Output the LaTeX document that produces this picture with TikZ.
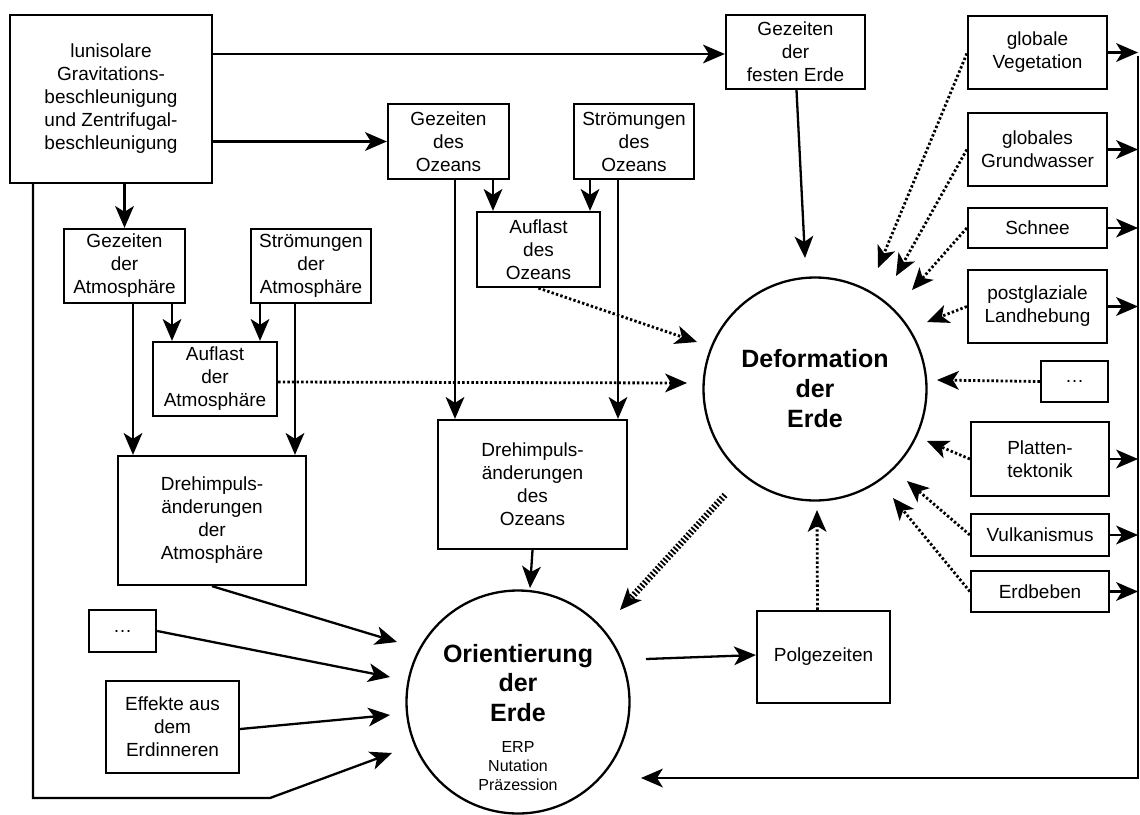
\documentclass[tikz,border=0pt]{standalone}
\usepackage{fontspec}
\setmainfont{Liberation Sans}
\usetikzlibrary{arrows.meta}
\begin{document}
\begin{tikzpicture}[x=1pt,y=-1pt,
  box/.style={draw, line width=2.3pt, align=center, inner sep=0pt, font=\fontsize{19}{23}\selectfont},
  circ/.style={draw, circle, line width=2.3pt, minimum size=223pt, inner sep=0pt, align=center, font=\fontsize{25}{30}\selectfont\bfseries},
  arrowtip/.style={-{Stealth[length=22pt,width=19pt,inset=6pt,line width=0pt]}},
  arr/.style={arrowtip, line width=2.3pt},
  dotarr/.style={arrowtip, line width=2.8pt, dash pattern=on 2.4pt off 2.2pt},
  busline/.style={arrowtip, line width=1.8pt},
  striped/.style={arrowtip, line width=6.5pt, dash pattern=on 1.8pt off 2pt}]
\useasboundingbox (0,0) rectangle (1140,814);
\fill[white] (0,0) rectangle (1140,814);

% boxes
\node[box, minimum width=202pt, minimum height=168pt] (lun) at (111,99) {lunisolare\\Gravitations-\\beschleunigung\\und Zentrifugal-\\beschleunigung};
\node[box, minimum width=139pt, minimum height=74pt] (fest) at (795.5,52) {Gezeiten\\der\\festen Erde};
\node[box, minimum width=121pt, minimum height=75pt] (gOz) at (448.5,141.5) {Gezeiten\\des\\Ozeans};
\node[box, minimum width=120pt, minimum height=75pt] (sOz) at (634,141.5) {Strömungen\\des\\Ozeans};
\node[box, minimum width=123pt, minimum height=75pt] (aOz) at (538.5,249.5) {Auflast\\des\\Ozeans};
\node[box, minimum width=121pt, minimum height=74pt] (gAtm) at (124.5,266) {Gezeiten\\der\\Atmosphäre};
\node[box, minimum width=120pt, minimum height=74pt] (sAtm) at (311,266) {Strömungen\\der\\Atmosphäre};
\node[box, minimum width=124pt, minimum height=74pt] (aAtm) at (215,379) {Auflast\\der\\Atmosphäre};
\node[box, minimum width=188pt, minimum height=129pt] (dAtm) at (212,520.5) {Drehimpuls-\\änderungen\\der\\Atmosphäre};
\node[box, minimum width=189pt, minimum height=129pt] (dOz) at (532.5,484.5) {Drehimpuls-\\änderungen\\des\\Ozeans};
\node[box, minimum width=67pt, minimum height=42pt] (dotsL) at (122.5,631) {\ldots};
\node[box, minimum width=133pt, minimum height=92pt] (eff) at (172.5,727) {Effekte aus\\dem\\Erdinneren};
\node[box, minimum width=133pt, minimum height=92pt] (pol) at (823.5,657) {Polgezeiten};
\node[box, minimum width=139pt, minimum height=73pt] (veg) at (1037.5,52.5) {globale\\Vegetation};
\node[box, minimum width=139pt, minimum height=73pt] (grund) at (1037.5,149.5) {globales\\Grundwasser};
\node[box, minimum width=139pt, minimum height=40pt] (schnee) at (1037.5,228) {Schnee};
\node[box, minimum width=139pt, minimum height=73pt] (land) at (1037.5,306.5) {postglaziale\\Landhebung};
\node[box, minimum width=67pt, minimum height=41pt] (dotsR) at (1074.5,381.5) {\ldots};
\node[box, minimum width=138pt, minimum height=74pt] (platt) at (1040,459) {Platten-\\tektonik};
\node[box, minimum width=138pt, minimum height=42pt] (vulk) at (1040,535) {Vulkanismus};
\node[box, minimum width=138pt, minimum height=41pt] (erd) at (1040,591.5) {Erdbeben};

% circles
\node[circ] (deform) at (815,389) {Deformation\\der\\Erde};
\node[circ] (orient) at (518,702) {};
\node[font=\fontsize{25}{29.5}\selectfont\bfseries, align=center] (orientT) at (518,683) {Orientierung\\der\\Erde};
\node[font=\fontsize{16}{19}\selectfont, align=center] (orientS) at (518,766) {ERP\\Nutation\\Präzession};

% helper coordinates
\coordinate (cA1) at (172,0);
\coordinate (cA2) at (260,0);
\coordinate (cA3) at (133,0);
\coordinate (cA4) at (295,0);
\coordinate (cO1) at (493,0);
\coordinate (cO2) at (590,0);
\coordinate (cO3) at (455,0);
\coordinate (cO4) at (618,0);
\coordinate (wrapX) at (33,0);
\coordinate (wrapA) at (33,798);
\coordinate (wrapB) at (270,798);
\coordinate (busX) at (1138,0);
\coordinate (busB) at (1138,778);

% solid arrows
\draw[arr] ([yshift=-2pt]lun.east |- fest.west) -- ([yshift=-2pt]fest.west);
\draw[arr] (lun.east |- gOz.west) -- (gOz.west);
\draw[arr] (gAtm.north |- lun.south) -- (gAtm.north);
\draw[arr] (gAtm.south -| cA1) -- (aAtm.north -| cA1);
\draw[arr] (sAtm.south -| cA2) -- (aAtm.north -| cA2);
\draw[arr] (gAtm.south -| cA3) -- (dAtm.north -| cA3);
\draw[arr] (sAtm.south -| cA4) -- (dAtm.north -| cA4);
\draw[arr] (gOz.south -| cO1) -- (aOz.north -| cO1);
\draw[arr] (sOz.south -| cO2) -- (aOz.north -| cO2);
\draw[arr] (gOz.south -| cO3) -- (dOz.north -| cO3);
\draw[arr] (sOz.south -| cO4) -- (dOz.north -| cO4);
\draw[arr] ([xshift=1pt]fest.south) -- ([shift={(-10,-131)}]deform.center);
\draw[arr] (dOz.south) -- ([shift={(12,-114)}]orient.center);
\draw[arr] (dAtm.south) -- ([shift={(-121,-60)}]orient.center);
\draw[arr] (dotsL.east) -- ([shift={(-128,-25)}]orient.center);
\draw[arr] ([yshift=-2pt]eff.east) -- ([shift={(-128,13)}]orient.center);
\draw[arr] (lun.south -| wrapX) -- (wrapA) -- (wrapB) -- ([shift={(-126,51)}]orient.center);
\draw[arr] ([shift={(128,-43)}]orient.center) -- ([yshift=2pt]pol.west);

% right bus
\foreach \n in {veg,grund,schnee,land,platt,vulk,erd}
  \draw[arr] ([xshift=-1pt]\n.east) -- (\n.east -| busX);
\draw[busline] ([yshift=-3pt]veg.east -| busX) -- (busB) -- ([shift={(123,76)}]orient.center);

% dotted arrows to deformation
\draw[dotarr] (aOz.south) -- ([shift={(-118,-47)}]deform.center);
\draw[dotarr] ([yshift=-3pt]aAtm.east) -- ([shift={(-128,-6)}]deform.center);
\draw[dotarr] ([xshift=-6pt]pol.north) -- ([shift={(2,121)}]deform.center);
\draw[dotarr] ([yshift=-1pt]veg.west) -- ([shift={(63,-121)}]deform.center);
\draw[dotarr] (grund.west) -- ([shift={(81,-113)}]deform.center);
\draw[dotarr] (schnee.west) -- ([shift={(97,-99)}]deform.center);
\draw[dotarr] (land.west) -- ([shift={(112,-67)}]deform.center);
\draw[dotarr] (dotsR.west) -- ([shift={(122,-9)}]deform.center);
\draw[dotarr] (platt.west) -- ([shift={(112,52)}]deform.center);
\draw[dotarr] (vulk.west) -- ([shift={(92,92)}]deform.center);
\draw[dotarr] (erd.west) -- ([shift={(78,109)}]deform.center);

% striped arrow deformation -> orientation
\draw[striped] ([shift={(-90,106)}]deform.center) -- ([shift={(102,-92)}]orient.center);
\end{tikzpicture}
\end{document}
